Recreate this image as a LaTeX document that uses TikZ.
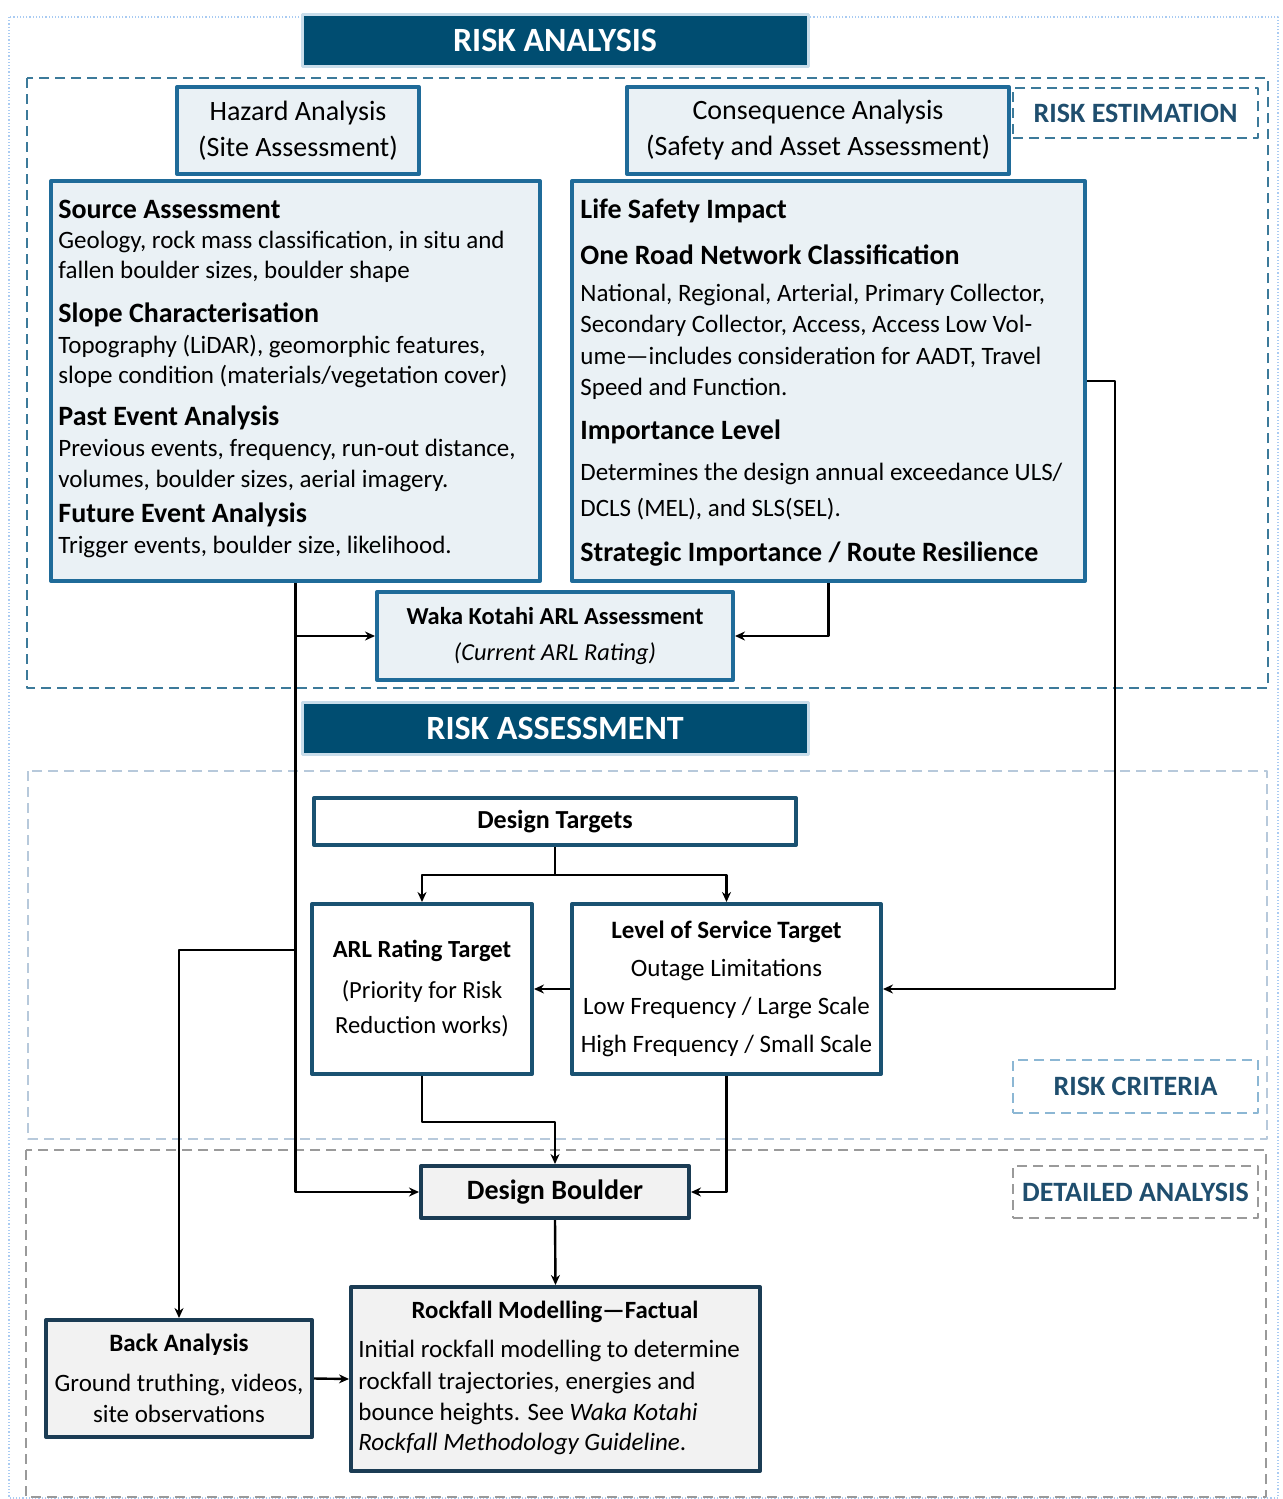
\documentclass[tikz,border=0pt]{standalone}
\usepackage{fontspec}
\setmainfont{Carlito}
\usetikzlibrary{arrows.meta}
\definecolor{hdrfill}{HTML}{004D71}
\definecolor{hdrrim}{HTML}{C9DDEA}
\definecolor{paleblue}{HTML}{EAF1F5}
\definecolor{boxblue}{HTML}{1F6B99}
\definecolor{boxnavy}{HTML}{1A5272}
\definecolor{boxdark}{HTML}{1B3C54}
\definecolor{palegrey}{HTML}{F2F2F2}
\definecolor{estdash}{HTML}{3C7A9A}
\definecolor{critdash}{HTML}{B7C9DB}
\definecolor{critedge}{HTML}{8CB7D4}
\definecolor{detdash}{HTML}{9A9A9A}
\definecolor{lbltext}{HTML}{1F4E6E}
\definecolor{pageline}{HTML}{A9CBF2}
\begin{document}
\begin{tikzpicture}[x=0.5pt,y=-0.5pt,line join=round,>={Stealth[length=5pt,width=4.5pt]},
	sz/.style 2 args={minimum width=#1*0.5pt,minimum height=#2*0.5pt},
	header/.style={fill=hdrfill,draw=hdrrim,line width=1.5pt,text=white,inner sep=0pt,font=\fontsize{17}{20}\selectfont\bfseries},
	bluebox/.style={fill=paleblue,draw=boxblue,line width=2pt,inner sep=0pt,align=center},
	whitebox/.style={fill=white,draw=boxnavy,line width=2pt,inner sep=0pt,align=center},
	greybox/.style={fill=palegrey,draw=boxdark,line width=2pt,inner sep=0pt,align=center},
	region/.style={dash pattern=on 5pt off 3pt,line width=0.9pt},
	tag/.style={region,inner sep=0pt,text=lbltext,font=\fontsize{14}{16}\selectfont\bfseries},
	head/.style={anchor=west,inner sep=0pt,yshift=-1pt,font=\fontsize{14}{16}\selectfont\bfseries},
	body/.style={anchor=west,inner sep=0pt,yshift=-1pt,font=\fontsize{12.5}{15}\selectfont},
	link/.style={->,line width=1.2pt}]
	\useasboundingbox (0,0) rectangle (1282,1499);
	\draw[pageline,densely dotted,line width=0.6pt] (9,17) rectangle (1278,1498);
	
	% dashed regions
	\draw[region,estdash] (27,78) rectangle (1268,688);
	\draw[region,critdash] (28,771) rectangle (1267,1139);
	\draw[region,detdash] (26,1150) rectangle (1266,1497);
	\node[tag,draw=estdash,sz={245}{50}] (esttag) at (1135.5,113) {RISK ESTIMATION};
	\node[tag,draw=critedge,sz={245}{53}] (crittag) at (1135.5,1086.5) {RISK CRITERIA};
	\node[tag,draw=detdash,sz={245}{52}] (dettag) at (1135.5,1192) {DETAILED ANALYSIS};
	
	% headers
	\node[header,sz={506}{52}] (hdrA) at (555,40) {RISK ANALYSIS};
	\node[header,sz={506}{52}] (hdrB) at (555,728) {RISK ASSESSMENT};
	
	% risk estimation
	\node[bluebox,sz={242}{87},font=\fontsize{14}{18}\selectfont] (haz) at (298,130.5) {Hazard Analysis\\(Site Assessment)};
	\node[bluebox,sz={382}{87},font=\fontsize{14}{18}\selectfont] (cons) at (818,130.5) {Consequence Analysis\\(Safety and Asset Assessment)};
	\node[bluebox,sz={489}{400}] (src) at (295.5,381) {};
	\node[bluebox,sz={513}{400}] (csq) at (828.5,381) {};
	\foreach \y/\s/\t [count=\i] in {207/head/{Source Assessment},
		240/body/{Geology, rock mass classification, in situ and},
		270/body/{fallen boulder sizes, boulder shape},
		313/head/{Slope Characterisation},
		345/body/{Topography (LiDAR), geomorphic features,},
		375/body/{slope condition (materials/vegetation cover)},
		416/head/{Past Event Analysis},
		448/body/{Previous events, frequency, run-out distance,},
		479/body/{volumes, boulder sizes, aerial imagery.},
		513/head/{Future Event Analysis},
		545/body/{Trigger events, boulder size, likelihood.}}
	\node[\s] (src\i) at (58,\y) {\t};
	\foreach \y/\s/\t [count=\i] in {209/head/{Life Safety Impact},
		253/head/{One Road Network Classification},
		293/body/{National, Regional, Arterial, Primary Collector,},
		324/body/{Secondary Collector, Access, Access Low Vol-},
		355/body/{ume—includes consideration for AADT, Travel},
		387/body/{Speed and Function.},
		430/head/{Importance Level},
		472/body/{Determines the design annual exceedance ULS/},
		507/body/{DCLS (MEL), and SLS(SEL).},
		552/head/{Strategic Importance / Route Resilience}}
	\node[\s] (csq\i) at (580,\y) {\t};
	\node[bluebox,sz={356}{88},font=\fontsize{12.2}{18}\selectfont] (waka) at (555,636) {\textbf{Waka Kotahi ARL Assessment}\\\textit{(Current ARL Rating)}};
	
	% risk criteria
	\node[whitebox,sz={482}{47},font=\fontsize{13}{16}\selectfont\bfseries] (tgt) at (555,821.5) {Design Targets};
	\node[whitebox,sz={220}{170},font=\fontsize{12.3}{17.5}\selectfont] (arlt) at (422,989) {\textbf{ARL Rating Target}\\[3pt](Priority for Risk\\Reduction works)};
	\node[whitebox,sz={309}{170},font=\fontsize{12.5}{19}\selectfont] (los) at (726.5,989) {\textbf{Level of Service Target}\\Outage Limitations\\Low Frequency / Large Scale\\High Frequency / Small Scale};
	
	% detailed analysis
	\node[greybox,sz={268}{52},font=\fontsize{14}{16}\selectfont\bfseries] (bld) at (555,1192) {Design Boulder};
	\node[greybox,sz={266}{117},font=\fontsize{12.5}{15.5}\selectfont] (back) at (179,1378.5) {\textbf{Back Analysis}\\[4.5pt]Ground truthing, videos,\\site observations};
	\node[greybox,sz={409}{184}] (rock) at (555.5,1379) {};
	\node[inner sep=0pt,yshift=-1pt,font=\fontsize{12.4}{15}\selectfont\bfseries] (rockT) at (555,1310) {Rockfall Modelling—Factual};
	\foreach \y/\t [count=\i] in {1349/{Initial rockfall modelling to determine},
		1381/{rockfall trajectories, energies and},
		1412/{bounce heights. See \textit{Waka Kotahi}},
		1442/{\textit{Rockfall Methodology Guideline}.}}
	\node[body] (rock\i) at (358,\y) {\t};
	
	% connectors
	\draw[link] (src.south) |- (bld.west);
	\draw[link] (src.south |- waka.west) -- (waka.west);
	\draw[link] (src.south |- 0,950) -| (back.north);
	\draw[link] (csq.south) |- (waka.east);
	\draw[link] (csq.east) -- ++(28,0) |- (los.east);
	\draw[link] (tgt.south) -- ++(0,28) -| (arlt.north);
	\draw[link] (tgt.south) -- ++(0,28) -| (los.north);
	\draw[link] (los.west) -- (arlt.east);
	\draw[link] (arlt.south) -- ++(0,46) -| (bld.north);
	\draw[link] (los.south) |- (bld.east);
	\draw[link] (bld.south) -- (rock.north);
	\draw[link] (back.east) -- (rock.west);
\end{tikzpicture}
\end{document}
